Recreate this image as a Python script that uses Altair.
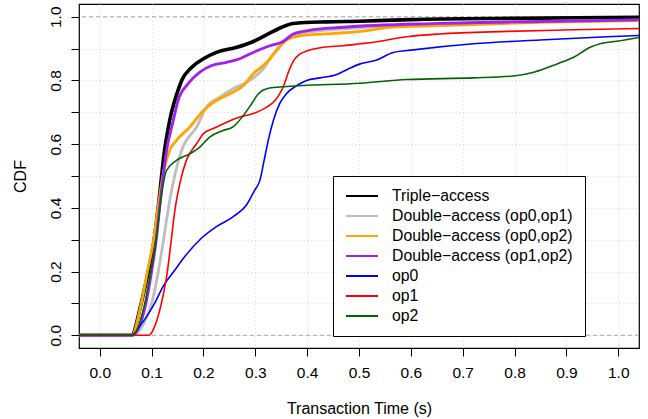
import altair as alt
import pandas as pd

# ---------------- data ----------------
series_names = [
    "Triple\u2212access",
    "Double\u2212access (op0,op1)",
    "Double\u2212access (op0,op2)",
    "Double\u2212access (op1,op2)",
    "op0",
    "op1",
    "op2",
]
series_colors = ["#000000", "#BEBEBE", "#FFA500", "#A020F0", "#0000FF", "#FF0000", "#006400"]

triple_t = [-0.04, 0.061, 0.080, 0.093, 0.105, 0.114, 0.125, 0.135, 0.151, 0.158, 0.177, 0.200, 0.225,
            0.264, 0.293, 0.325, 0.351, 0.373, 0.438, 0.500, 0.600, 0.800, 1.04]
triple_f = [0.0, 0.0, 0.101, 0.195, 0.300, 0.420, 0.581, 0.675, 0.769, 0.800, 0.841, 0.868, 0.888,
            0.904, 0.920, 0.946, 0.967, 0.979, 0.984, 0.986, 0.991, 0.995, 0.998]

d01_t = [-0.04, 0.062, 0.100, 0.113, 0.123, 0.135, 0.158, 0.187, 0.206, 0.232, 0.257, 0.290, 0.315,
         0.335, 0.354, 0.380, 0.438, 0.500, 0.560, 0.656, 0.849, 1.04]
d01_f = [0.0, 0.0, 0.100, 0.200, 0.300, 0.424, 0.581, 0.654, 0.716, 0.748, 0.774, 0.800, 0.836,
         0.883, 0.925, 0.946, 0.958, 0.965, 0.972, 0.975, 0.985, 0.989]

d02_t = [-0.04, 0.062, 0.080, 0.092, 0.104, 0.114, 0.124, 0.135, 0.148, 0.174, 0.200, 0.225, 0.251,
         0.277, 0.296, 0.322, 0.341, 0.360, 0.386, 0.438, 0.502, 0.560, 0.656, 0.849, 1.04]
d02_f = [0.0, 0.0, 0.100, 0.200, 0.300, 0.420, 0.520, 0.581, 0.612, 0.654, 0.706, 0.737, 0.758,
         0.784, 0.821, 0.857, 0.894, 0.927, 0.940, 0.946, 0.954, 0.967, 0.972, 0.982, 0.988]

d12_t = [-0.04, 0.063, 0.089, 0.100, 0.109, 0.117, 0.129, 0.142, 0.151, 0.170, 0.193, 0.216, 0.245,
         0.270, 0.296, 0.328, 0.354, 0.373, 0.399, 0.470, 0.656, 0.849, 1.04]
d12_f = [0.0, 0.0, 0.100, 0.200, 0.300, 0.424, 0.581, 0.675, 0.737, 0.789, 0.826, 0.847, 0.857,
         0.868, 0.888, 0.909, 0.922, 0.946, 0.956, 0.967, 0.979, 0.985, 0.990]

op0_t = [-0.04, 0.061, 0.077, 0.091, 0.106, 0.122, 0.145, 0.164, 0.193, 0.225, 0.257, 0.283, 0.299,
         0.309, 0.317, 0.325, 0.335, 0.347, 0.360, 0.380, 0.399, 0.425, 0.457, 0.479, 0.502, 0.534,
         0.566, 0.605, 0.721, 0.849, 0.978, 1.04]
op0_f = [0.0, 0.0, 0.028, 0.060, 0.101, 0.153, 0.205, 0.247, 0.300, 0.341, 0.372, 0.409, 0.456,
         0.487, 0.549, 0.612, 0.675, 0.727, 0.758, 0.784, 0.800, 0.808, 0.819, 0.836, 0.852, 0.864,
         0.888, 0.896, 0.915, 0.927, 0.937, 0.941]

op1_t = [-0.04, 0.095, 0.106, 0.119, 0.130, 0.138, 0.145, 0.156, 0.167, 0.187, 0.200, 0.219, 0.245,
         0.270, 0.296, 0.322, 0.338, 0.347, 0.356, 0.365, 0.374, 0.386, 0.402, 0.431, 0.470, 0.502,
         0.528, 0.592, 0.656, 0.785, 0.914, 1.04]
op1_f = [0.0, 0.0, 0.028, 0.101, 0.195, 0.300, 0.393, 0.487, 0.549, 0.602, 0.633, 0.649, 0.669,
         0.685, 0.696, 0.716, 0.737, 0.758, 0.789, 0.831, 0.862, 0.883, 0.894, 0.904, 0.909, 0.915,
         0.920, 0.937, 0.946, 0.954, 0.959, 0.963]

op2_t = [-0.04, 0.063, 0.087, 0.098, 0.109, 0.116, 0.121, 0.129, 0.148, 0.174, 0.193, 0.212, 0.238,
         0.257, 0.277, 0.293, 0.306, 0.322, 0.360, 0.392, 0.502, 0.592, 0.721, 0.798, 0.837, 0.882,
         0.914, 0.946, 0.965, 0.997, 1.04]
op2_f = [0.0, 0.0, 0.101, 0.195, 0.300, 0.400, 0.460, 0.518, 0.549, 0.570, 0.591, 0.622, 0.643,
         0.654, 0.690, 0.727, 0.758, 0.774, 0.781, 0.784, 0.791, 0.803, 0.808, 0.814, 0.826, 0.852,
         0.873, 0.904, 0.915, 0.923, 0.935]

x_ticks = [0.0, 0.1, 0.2, 0.3, 0.4, 0.5, 0.6, 0.7, 0.8, 0.9, 1.0]
y_ticks = [0.0, 0.1, 0.2, 0.3, 0.4, 0.5, 0.6, 0.7, 0.8, 0.9, 1.0]
ref_levels = [0.0, 1.0]

# ---------------- build table ----------------
all_t = [triple_t, d01_t, d02_t, d12_t, op0_t, op1_t, op2_t]
all_f = [triple_f, d01_f, d02_f, d12_f, op0_f, op1_f, op2_f]
rows = []
for k, (name, ts, fs) in enumerate(zip(series_names, all_t, all_f)):
    for i, (t, f) in enumerate(zip(ts, fs)):
        rows.append({"series": name, "t": t, "F": f, "order": i, "k": k})
df = pd.DataFrame(rows)
ref_df = pd.DataFrame({"F": ref_levels})

FONT = "Liberation Sans"
DOM = [-0.04, 1.04]

x_scale = alt.Scale(domain=DOM, nice=False, zero=False)
y_scale = alt.Scale(domain=DOM, nice=False, zero=False)

x_axis = alt.Axis(
    orient="bottom",
    values=x_ticks, format=".1f", tickSize=8, tickColor="black", domain=False,
    grid=True, gridColor="#D3D3D3", gridDash=[1, 3], gridWidth=1,
    labelFontSize=15.5, labelFont=FONT, labelColor="black", labelPadding=9,
    labelFlush=False, labelOverlap=False,
    title="Transaction Time (s)", titleFont=FONT, titleFontSize=16, titleFontWeight="normal",
    titleColor="black", titleX=280, titleY=60, titleAlign="center", titleBaseline="middle",
)
y_axis = alt.Axis(
    orient="left",
    values=y_ticks, tickSize=8, tickColor="black", domain=False,
    labelExpr="round(datum.value * 10) % 2 == 0 ? format(datum.value, '.1f') : ''",
    grid=True, gridColor="#D3D3D3", gridDash=[1, 3], gridWidth=1,
    labelFontSize=15.5, labelFont=FONT, labelColor="black", labelPadding=11,
    labelAngle=270, labelAlign="center", labelBaseline="alphabetic",
    labelFlush=False, labelOverlap=False,
    title="CDF", titleFont=FONT, titleFontSize=16, titleFontWeight="normal", titleColor="black",
    titleAngle=270, titleX=-59, titleY=172, titleAlign="center", titleBaseline="middle",
)

legend = alt.Legend(
    orient="none", legendX=254, legendY=172, title=None,
    symbolType="stroke", symbolSize=1024, symbolStrokeWidth=2,
    labelFont=FONT, labelFontSize=15.8, labelColor="black", labelOffset=13, labelLimit=0,
    padding=12, clipHeight=16, rowPadding=4,
    strokeColor="black", fillColor="white",
)

refs = alt.Chart(ref_df).mark_rule(color="#A8A8A8", strokeDash=[4, 3], strokeWidth=1).encode(
    y=alt.Y("F:Q", scale=y_scale, axis=y_axis)
)

lines = alt.Chart(df).transform_calculate(
    w="datum.k == 0 ? 3.6 : (datum.k <= 3 ? 2.8 : 1.6)"
).mark_line(interpolate="monotone", clip=True).encode(
    x=alt.X("t:Q", scale=x_scale, axis=x_axis),
    y=alt.Y("F:Q", scale=y_scale, axis=y_axis),
    color=alt.Color("series:N", scale=alt.Scale(domain=series_names, range=series_colors),
                    sort=series_names, legend=legend),
    strokeWidth=alt.StrokeWidth("w:Q", scale=None, legend=None),
    order=alt.Order("order:Q"),
    detail="k:N",
)

chart = alt.layer(refs, lines).properties(
    width=560, height=344,
    padding={"left": 79, "top": 4, "right": 9, "bottom": 71},
    autosize=alt.AutoSizeParams(type="none"),
    background="white",
).configure_view(stroke="black", strokeWidth=1.2)

chart.save("out.html", embed_options={"renderer": "svg", "actions": False})
